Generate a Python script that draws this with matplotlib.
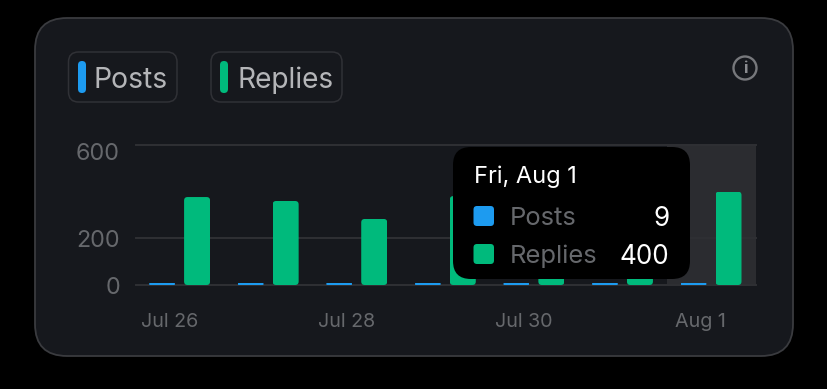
import matplotlib
matplotlib.use("Agg")
import matplotlib.pyplot as plt
from matplotlib.patches import FancyBboxPatch, Circle
from matplotlib.transforms import ScaledTranslation

plt.rcParams['font.family'] = ['Inter', 'DejaVu Sans']

dates = ["Jul 26", "Jul 27", "Jul 28", "Jul 29", "Jul 30", "Jul 31", "Aug 1"]
posts = [9, 9, 9, 9, 9, 9, 9]
replies = [377, 360, 283, 381, 350, 340, 400]
y_ticks = [0, 200, 600]
x_tick_labels = ["Jul 26", "Jul 28", "Jul 30", "Aug 1"]
x_tick_idx = [0, 2, 4, 6]
highlight_idx = 6
tooltip_title = "Fri, Aug 1"

BLACK = "#000000"
CARD = "#16181d"
CARD_EDGE = "#3a3b3f"
GRID = "#2f3034"
BLUE = "#1d9bf0"
GREEN = "#00ba7c"
TICK = "#66686c"
LEGEND_TEXT = "#b4b5b8"
W, H = 828, 389

fig = plt.figure(figsize=(W / 100, H / 100), dpi=100, facecolor=BLACK)

def pixel_axes(z):
    a = fig.add_axes([0, 0, 1, 1], zorder=z)
    a.set_xlim(0, W)
    a.set_ylim(H, 0)
    a.axis("off")
    a.patch.set_alpha(0)
    return a

def rrect(a, x0, y0, x1, y1, r, fc, ec="none", lw=0, z=1):
    p = FancyBboxPatch((x0 + r, y0 + r), x1 - x0 - 2 * r, y1 - y0 - 2 * r,
                       boxstyle=f"round,pad={r},rounding_size={r}",
                       fc=fc, ec=ec, lw=lw, zorder=z)
    a.add_patch(p)
    return p

bg = pixel_axes(0)
rrect(bg, 35, 18, 793, 356, 32, CARD, CARD_EDGE, 1.3)

# Legend chips
rrect(bg, 68.5, 52, 177, 102, 10, CARD, "#303136", 1.1)
rrect(bg, 211, 52, 342, 102, 10, CARD, "#303136", 1.1)
rrect(bg, 78, 61, 86, 93, 4, BLUE)
rrect(bg, 220, 61, 228, 93, 4, GREEN)
bg.text(94, 77.5, "Posts", color=LEGEND_TEXT, fontsize=20.4, va="center_baseline", ha="left")
bg.text(238, 77.5, "Replies", color=LEGEND_TEXT, fontsize=20.2, va="center_baseline", ha="left")

# Info icon
bg.add_patch(Circle((745, 68), 11.5, fc="none", ec="#77787c", lw=1.7))
bg.text(745, 68.5, "i", color="#8a8b8f", fontsize=12, fontweight="bold", ha="center", va="center")

# Chart
X0, X1, YT, YB = 136, 756, 145, 285
ax = fig.add_axes([X0 / W, 1 - YB / H, (X1 - X0) / W, (YB - YT) / H], zorder=1)
ax.patch.set_alpha(0)
n = len(dates)
ax.set_xlim(-0.5, n - 0.5)
ax.set_ylim(0, 600)
for s in ax.spines.values():
    s.set_visible(False)

ax.axvspan(highlight_idx - 0.5, highlight_idx + 0.5, color="#2b2c30", lw=0, zorder=0.5)
ax.set_yticks(y_ticks)
ax.yaxis.grid(True, color=GRID, lw=1.4, zorder=1)
for line in ax.get_ygridlines():
    line.set_clip_on(False)
ax.set_axisbelow(True)

bw = 26 / 88.57
off = 17.5 / 88.57
nudge = -0.008
xs = list(range(n))
b1 = ax.bar([x - off + nudge for x in xs], posts, width=bw, color=BLUE, zorder=2)
b2 = ax.bar([x + off + nudge for x in xs], replies, width=bw, color=GREEN, zorder=2)

px_x = n / (X1 - X0)
px_y = 600 / (YB - YT)
for rect in list(b1) + list(b2):
    x, y = rect.get_xy()
    w, h = rect.get_width(), rect.get_height()
    r_px = min(3.5, h / px_y / 2)
    r = r_px * px_x
    asp = px_y / px_x
    clip = FancyBboxPatch((x + r, y + r * asp), w - 2 * r, h - 2 * r * asp,
                          boxstyle=f"round,pad={r},rounding_size={r}",
                          mutation_aspect=asp, transform=ax.transData)
    rect.set_clip_path(clip)

ax.set_xticks([i - 0.125 for i in x_tick_idx])
ax.set_xticklabels(x_tick_labels)
ax.tick_params(axis="x", length=0, pad=20.5, labelsize=14.2, labelcolor=TICK)
ax.tick_params(axis="y", length=0, pad=11.5, labelsize=16.8, labelcolor=TICK)

# The top y label sits below its gridline in the reference
top_label = ax.get_yticklabels()[-1]
top_label.set_transform(top_label.get_transform() + ScaledTranslation(0, -6 / 100, fig.dpi_scale_trans))

# Tooltip
ov = pixel_axes(2)
rrect(ov, 453, 147, 690, 279, 18, BLACK)
ov.text(474, 174, tooltip_title, color="white", fontsize=17, va="center_baseline")
rows = [("Posts", posts[highlight_idx], BLUE, 216), ("Replies", replies[highlight_idx], GREEN, 254)]
for label, val, col, y in rows:
    rrect(ov, 473.5, y - 10, 494, y + 10, 3.5, col)
    ov.text(510, y, label, color="#66686c", fontsize=18.4, va="center_baseline")
    ov.text(669.5, y, str(val), color="white", fontsize=18.8, va="center_baseline", ha="right")

fig.savefig("out.png", dpi=100, facecolor=BLACK)
